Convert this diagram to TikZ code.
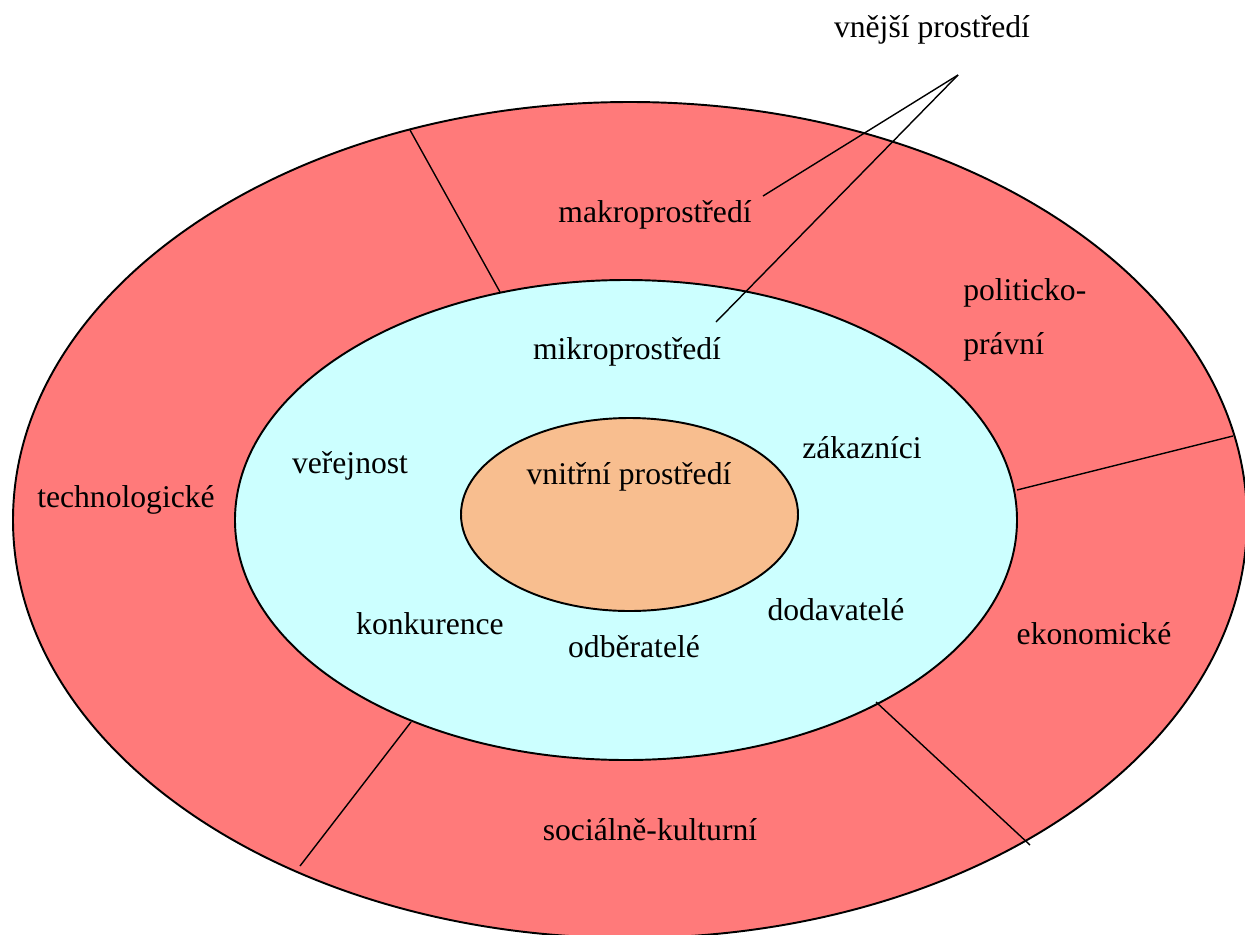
\documentclass[tikz,border=0pt]{standalone}
\usepackage{fontspec}
\setmainfont{Liberation Serif}
\usetikzlibrary{positioning}
\definecolor{makro}{RGB}{255,122,122}
\definecolor{mikro}{RGB}{204,255,255}
\definecolor{vnitr}{RGB}{248,190,143}
\begin{document}
\begin{tikzpicture}[x=0.02cm,y=-0.02cm,semithick]
  \tikzstyle{txt}=[font=\fontsize{18}{22}\selectfont,text=black,inner sep=1pt]
  \tikzstyle{ring}=[draw=black,line width=1.1pt]
  \tikzstyle{cut}=[draw=black,line width=0.8pt]

  \useasboundingbox (0,0) rectangle (1245,934);
  \clip (0,0) rectangle (1245,934);

  % the three areas
  \filldraw[ring,fill=makro] (630,520) ellipse [x radius=617,y radius=418];
  \filldraw[ring,fill=mikro] (626,520) ellipse [x radius=391,y radius=240];
  \filldraw[ring,fill=vnitr] (629.5,514.5) ellipse [x radius=168.5,y radius=96.5];

  % borders between the parts of the makro ring
  \coordinate (T1) at (410,130);  \coordinate (T2) at (500,292);
  \coordinate (P1) at (1017,490); \coordinate (P2) at (1233,436);
  \coordinate (E1) at (876,702);  \coordinate (E2) at (1030,845);
  \coordinate (S1) at (411,722);  \coordinate (S2) at (300,866);
  \draw[cut] (T1) -- (T2);
  \draw[cut] (P1) -- (P2);
  \draw[cut] (E1) -- (E2);
  \draw[cut] (S1) -- (S2);

  \node[txt] (VNEJSI) at (932,30)  {vnější prostředí};
  \node[txt] (MAKRO)  at (655,215) {makroprostředí};
  \node[txt] (MIKRO)  at (627,352) {mikroprostředí};
  \node[txt] (VNITR)  at (629,477) {vnitřní prostředí};
  \node[txt,align=left,anchor=north west] (POLIT) at (961,276) {politicko-\\[9pt]právní};
  \node[txt] (ZAK)    at (862,448) {zákazníci};
  \node[txt] (VER)    at (350,466) {veřejnost};
  \node[txt] (TECH)   at (126,500) {technologické};
  \node[txt] (KONK)   at (430,624) {konkurence};
  \node[txt] (DOD)    at (836,610) {dodavatelé};
  \node[txt] (ODB)    at (634,647) {odběratelé};
  \node[txt] (EKON)   at (1094,634) {ekonomické};
  \node[txt] (SOC)    at (650,830) {sociálně-kulturní};

  % pointers
  \coordinate (TIP) at (958,75);
  \coordinate (TOMAKRO) at (763,196);
  \coordinate (TOMIKRO) at (716,322);
  \draw[cut] (TIP) -- (TOMAKRO);
  \draw[cut] (TIP) -- (TOMIKRO);
\end{tikzpicture}
\end{document}
